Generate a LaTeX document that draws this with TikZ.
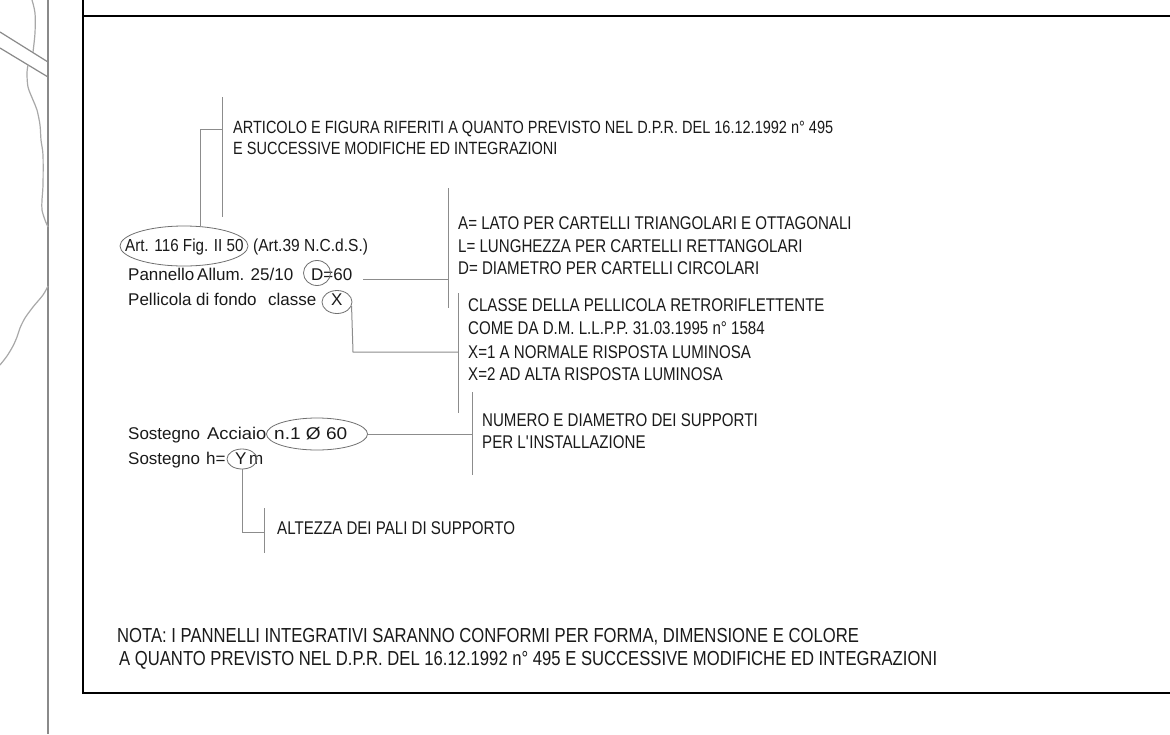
\documentclass[tikz,border=0pt]{standalone}
\usepackage{fontspec}
\usepackage{graphicx}
\setmainfont{Liberation Sans}
\newfontfamily\nfont[FakeStretch=0.82]{Liberation Sans}
\newfontfamily\mfont[FakeStretch=0.93]{Liberation Sans}
\usetikzlibrary{shapes.geometric}
\definecolor{txt}{HTML}{1A1A1A}
\definecolor{conncol}{HTML}{8C8C8C}
\definecolor{ecol}{HTML}{707070}
\definecolor{mapg}{HTML}{A8A8A8}
\definecolor{mapd}{HTML}{8A8A8A}
\begin{document}
\begin{tikzpicture}[x=1pt,y=-1pt,
  nar/.style={font=\nfont\fontsize{18.4}{20}\selectfont, anchor=base west, inner sep=0pt, text=txt},
  nartop/.style={font=\nfont\fontsize{17.7}{20}\selectfont, anchor=base west, inner sep=0pt, text=txt},
  notatext/.style={font=\nfont\fontsize{20.3}{22}\selectfont, anchor=base west, inner sep=0pt, text=txt},
  reg/.style={font=\fontsize{17}{20}\selectfont, anchor=base west, inner sep=0pt, text=txt},
  artt/.style={font=\mfont\fontsize{17.4}{20}\selectfont, anchor=base west, inner sep=0pt, text=txt},
  ell/.style={ellipse, draw=ecol, line width=0.8pt, inner sep=0pt},
  conn/.style={draw=conncol, line width=1pt},
  frameline/.style={draw=black, line width=2pt},
  mapline/.style={draw=mapd, line width=1.2pt},
  mapcurve/.style={draw=mapg, line width=1.2pt}]
\useasboundingbox (0,0) rectangle (1170,734);
\fill[white] (0,0) rectangle (1170,734);

% background map fragments
\draw[mapline] (48,0) -- (48,734);
\draw[mapline] (0,32) -- (48,62);
\draw[mapline] (0,48) -- (48,77);
\draw[mapcurve] plot[smooth] coordinates {(32,0) (35,13) (35,33) (33,52)};
\draw[mapcurve] plot[smooth] coordinates {(28,65) (27,73) (28,87) (33,100) (37,110) (40,125) (41,140) (43,155) (43,185) (42,200) (42,210) (45,220) (48,227)};
\draw[mapcurve] plot[smooth] coordinates {(48,286) (43,295) (33,307) (25,318) (20,328) (17,337) (13,346) (7,356) (0,365)};

% frame
\draw[frameline] (83,0) -- (83,693) -- (1170,693);
\draw[frameline] (83,16) -- (1170,16);

% explanatory texts
\node[nartop] (a1) at (233,133.5) {ARTICOLO E FIGURA RIFERITI A QUANTO PREVISTO NEL D.P.R. DEL 16.12.1992 n° 495};
\node[nartop] (a2) at (233,154.5) {E SUCCESSIVE MODIFICHE ED INTEGRAZIONI};
\node[nar] (b1) at (458,229.5) {A= LATO PER CARTELLI TRIANGOLARI E OTTAGONALI};
\node[nar] (b2) at (458,252.5) {L= LUNGHEZZA PER CARTELLI RETTANGOLARI};
\node[nar] (b3) at (458,274.5) {D= DIAMETRO PER CARTELLI CIRCOLARI};
\node[nar] (c1) at (468,311.5) {CLASSE DELLA PELLICOLA RETRORIFLETTENTE};
\node[nar] (c2) at (468,334) {COME DA D.M. L.L.P.P. 31.03.1995 n° 1584};
\node[nar] (c3) at (468,358) {X=1 A NORMALE RISPOSTA LUMINOSA};
\node[nar] (c4) at (468,380) {X=2 AD ALTA RISPOSTA LUMINOSA};
\node[nar] (d1) at (482,426.5) {NUMERO E DIAMETRO DEI SUPPORTI};
\node[nar] (d2) at (482,448.5) {PER L\textquotesingle INSTALLAZIONE};
\node[nar] (f1) at (277,534.5) {ALTEZZA DEI PALI DI SUPPORTO};
\node[notatext] (n1) at (117,642) {NOTA: I PANNELLI INTEGRATIVI SARANNO CONFORMI PER FORMA, DIMENSIONE E COLORE};
\node[notatext] (n2) at (119,665) {A QUANTO PREVISTO NEL D.P.R. DEL 16.12.1992 n° 495 E SUCCESSIVE MODIFICHE ED INTEGRAZIONI};

% sign description texts
\node[artt] (tArt1) at (125,251.5) {\scalebox{0.94}[1]{Art. 116 Fig. II 50}};
\node[artt] (tArt2) at (253,251.5) {\scalebox{0.96}[1]{(Art.39 N.C.d.S.)}};
\node[reg] (tPan1) at (128,280) {Pannello\,Allum. 25/10};
\node[reg] (tPan2) at (311,280) {D=60};
\node[reg] (tPel1) at (128,305) {Pellicola di fondo};
\node[reg] (tPel2) at (268,305) {classe};
\node[reg] (tPel3) at (331,305) {X};
\node[reg] (tSo1) at (128,439) {Sostegno};
\node[reg] (tAcc) at (207,439) {\scalebox{1.08}[1]{Acciaio}};
\node[reg] (tNum) at (274,439) {\scalebox{1.12}[1]{n.1 Ø 60}};
\node[reg] (tSo2) at (128,464) {Sostegno};
\node[reg] (tH) at (206,464) {h=};
\node[reg] (tY) at (235,464) {Y};
\node[reg] (tM) at (249,464) {m};

% ellipses
\node[ell, minimum width=128pt, minimum height=40pt] (eArt) at (184,246) {};
\node[ell, minimum width=27pt, minimum height=25pt] (eD) at (317,273) {};
\node[ell, minimum width=30pt, minimum height=23pt] (eX) at (337,302) {};
\node[ell, minimum width=101pt, minimum height=32pt] (eN) at (317,434) {};
\node[ell, minimum width=30pt, minimum height=20pt] (eY) at (242,459) {};

% bracket lines
\coordinate (v1t) at (222,97);  \coordinate (v1b) at (222,217);
\coordinate (v2t) at (448,188); \coordinate (v2b) at (448,308);
\coordinate (v3t) at (458,293); \coordinate (v3b) at (458,413);
\coordinate (v4t) at (472,392); \coordinate (v4b) at (472,475);
\coordinate (v5t) at (264,508); \coordinate (v5b) at (264,553);
\draw[conn] (v1t) -- (v1b);
\draw[conn] (v2t) -- (v2b);
\draw[conn] (v3t) -- (v3b);
\draw[conn] (v4t) -- (v4b);
\draw[conn] (v5t) -- (v5b);

% connectors
\coordinate (k1) at (200,129);
\draw[conn] (v1t |- k1) -- (k1) -- (k1 |- eArt.north);
\coordinate (k2) at (363,279);
\draw[conn] (k2) -- (k2 -| v2t);
\coordinate (k3) at (353,352);
\draw[conn] (eX.-15) -- (k3) -- (k3 -| v3t);
\draw[conn] (eN.east) -- (eN.east -| v4t);
\coordinate (k5) at (242,532);
\draw[conn] (eY.south) -- (k5) -- (k5 -| v5t);
\end{tikzpicture}
\end{document}
